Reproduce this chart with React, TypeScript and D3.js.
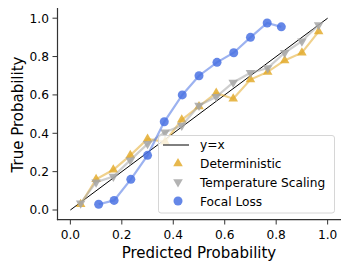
import React from "react";
import * as d3 from "d3";

const detX = [0.04, 0.10, 0.167, 0.233, 0.30, 0.368, 0.433, 0.50, 0.567, 0.633, 0.70, 0.767, 0.833, 0.90, 0.965];
const detY = [0.03, 0.16, 0.21, 0.285, 0.37, 0.356, 0.47, 0.54, 0.61, 0.58, 0.68, 0.72, 0.78, 0.82, 0.93];
const tsX = [0.04, 0.10, 0.167, 0.233, 0.30, 0.368, 0.433, 0.50, 0.567, 0.633, 0.70, 0.767, 0.833, 0.90, 0.965];
const tsY = [0.035, 0.145, 0.175, 0.26, 0.345, 0.405, 0.44, 0.545, 0.59, 0.665, 0.715, 0.74, 0.82, 0.88, 0.965];
const focX = [0.11, 0.17, 0.235, 0.30, 0.365, 0.435, 0.50, 0.57, 0.635, 0.70, 0.765, 0.82];
const focY = [0.03, 0.05, 0.16, 0.285, 0.46, 0.60, 0.70, 0.77, 0.82, 0.90, 0.975, 0.955];
const ticks = [0, 0.2, 0.4, 0.6, 0.8, 1.0];
const legendLabels = ["y=x", "Deterministic", "Temperature Scaling", "Focal Loss"];

const C_DET = "#E3AC2E";
const C_TS = "#A6A6A6";
const C_FOC = "#4A72E3";
const FONT = "DejaVu Sans, sans-serif";

function tri(cx: number, cy: number, r: number, up: boolean) {
  const s = up ? -1 : 1;
  return `M${cx},${cy + s * r} L${cx - r * 0.87},${cy - s * r * 0.5} L${cx + r * 0.87},${cy - s * r * 0.5} Z`;
}

export default function App() {
  const W = 350, H = 270;
  const x = d3.scaleLinear().domain([-0.05, 1.05]).range([57.5, 340.5]);
  const y = d3.scaleLinear().domain([-0.05, 1.05]).range([219.6, 8.6]);
  const line = (xs: number[], ys: number[]) =>
    d3.line<number>().x((_, i) => x(xs[i])).y((_, i) => y(ys[i]))(xs) || "";

  return (
    <svg width={W} height={H} style={{ position: "absolute", left: 0, top: 0 }} fontFamily={FONT}>
      <rect width={W} height={H} fill="#fff" />
      {/* y=x */}
      <line x1={x(0)} y1={y(0)} x2={x(1)} y2={y(1)} stroke="#000" strokeWidth={1} />
      {/* deterministic */}
      <path d={line(detX, detY)} fill="none" stroke={C_DET} strokeOpacity={0.55} strokeWidth={2.2} />
      {detX.map((v, i) => (
        <path key={"d" + i} d={tri(x(v), y(detY[i]), 5.5, true)} fill={C_DET} fillOpacity={0.85} />
      ))}
      {/* temperature scaling */}
      <path d={line(tsX, tsY)} fill="none" stroke={C_TS} strokeOpacity={0.55} strokeWidth={2.2} />
      {tsX.map((v, i) => (
        <path key={"t" + i} d={tri(x(v), y(tsY[i]), 5.5, false)} fill={C_TS} fillOpacity={0.85} />
      ))}
      {/* focal */}
      <path d={line(focX, focY)} fill="none" stroke={C_FOC} strokeOpacity={0.55} strokeWidth={2.2} />
      {focX.map((v, i) => (
        <circle key={"f" + i} cx={x(v)} cy={y(focY[i])} r={4.5} fill={C_FOC} fillOpacity={0.85} />
      ))}
      {/* spines */}
      <line x1={57.5} y1={8} x2={57.5} y2={220.2} stroke="#333" strokeWidth={1.2} />
      <line x1={56.9} y1={219.6} x2={341} y2={219.6} stroke="#333" strokeWidth={1.2} />
      {ticks.map((t) => (
        <g key={"xt" + t}>
          <line x1={x(t)} x2={x(t)} y1={220} y2={224.5} stroke="#333" strokeWidth={1} />
          <text x={x(t)} y={238.5} fontSize={12.2} textAnchor="middle" fill="#000">{t.toFixed(1)}</text>
        </g>
      ))}
      {ticks.map((t) => (
        <g key={"yt" + t}>
          <line x1={52.5} x2={57} y1={y(t)} y2={y(t)} stroke="#333" strokeWidth={1} />
          <text x={49} y={y(t) + 4.4} fontSize={12.2} textAnchor="end" fill="#000">{t.toFixed(1)}</text>
        </g>
      ))}
      <text x={199} y={257.5} fontSize={15} textAnchor="middle" fill="#000">Predicted Probability</text>
      <text transform="translate(23,114.5) rotate(-90)" fontSize={15} textAnchor="middle" fill="#000">True Probability</text>
      {/* legend */}
      <rect x={158.5} y={135.5} width={176} height={77.5} rx={2.5} fill="#fff" fillOpacity={0.8} stroke="#d6d6d6" strokeWidth={1} />
      <line x1={163} x2={189} y1={145} y2={145} stroke="#000" strokeWidth={1} />
      <path d={tri(178, 163.5, 5.5, true)} fill={C_DET} fillOpacity={0.85} />
      <path d={tri(178, 182, 5.5, false)} fill={C_TS} fillOpacity={0.85} />
      <circle cx={178} cy={201} r={4.5} fill={C_FOC} fillOpacity={0.85} />
      {legendLabels.map((l, i) => (
        <text key={l} x={200} y={149.4 + i * 18.7} fontSize={12.2} fill="#000">{l}</text>
      ))}
    </svg>
  );
}
